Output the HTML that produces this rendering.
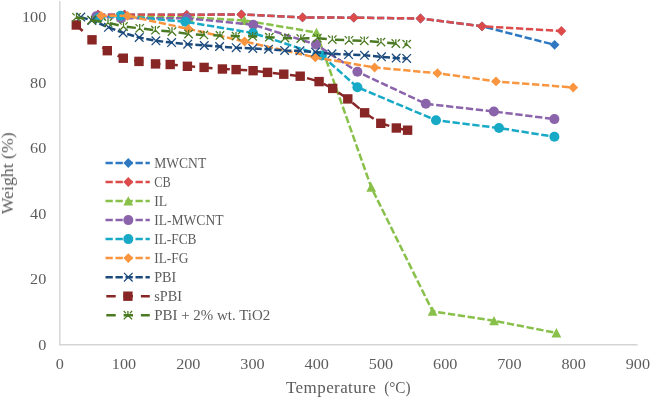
<!DOCTYPE html><html><head><meta charset="utf-8"><style>html,body{margin:0;padding:0;background:#fff;overflow:hidden}svg{display:block} text{will-change:transform}</style></head><body>
<svg width="650" height="397" viewBox="0 0 650 397">
<line x1="59.8" y1="1" x2="59.8" y2="344.8" stroke="#d4d4d4" stroke-width="1.4"/>
<line x1="59.1" y1="344.8" x2="637.6" y2="344.8" stroke="#d4d4d4" stroke-width="1.4"/>
<text x="46.3" y="349.9" text-anchor="end" font-family="Liberation Serif" font-size="15.5" fill="#5c5c5c" textLength="8.1" lengthAdjust="spacingAndGlyphs">0</text>
<text x="46.3" y="284.4" text-anchor="end" font-family="Liberation Serif" font-size="15.5" fill="#5c5c5c" textLength="16.2" lengthAdjust="spacingAndGlyphs">20</text>
<text x="46.3" y="218.9" text-anchor="end" font-family="Liberation Serif" font-size="15.5" fill="#5c5c5c" textLength="16.2" lengthAdjust="spacingAndGlyphs">40</text>
<text x="46.3" y="153.3" text-anchor="end" font-family="Liberation Serif" font-size="15.5" fill="#5c5c5c" textLength="16.2" lengthAdjust="spacingAndGlyphs">60</text>
<text x="46.3" y="87.8" text-anchor="end" font-family="Liberation Serif" font-size="15.5" fill="#5c5c5c" textLength="16.2" lengthAdjust="spacingAndGlyphs">80</text>
<text x="46.3" y="22.3" text-anchor="end" font-family="Liberation Serif" font-size="15.5" fill="#5c5c5c" textLength="24.3" lengthAdjust="spacingAndGlyphs">100</text>
<text x="59.8" y="368.7" text-anchor="middle" font-family="Liberation Serif" font-size="15.5" fill="#5c5c5c" textLength="8.1" lengthAdjust="spacingAndGlyphs">0</text>
<text x="124.0" y="368.7" text-anchor="middle" font-family="Liberation Serif" font-size="15.5" fill="#5c5c5c" textLength="24.3" lengthAdjust="spacingAndGlyphs">100</text>
<text x="188.3" y="368.7" text-anchor="middle" font-family="Liberation Serif" font-size="15.5" fill="#5c5c5c" textLength="24.3" lengthAdjust="spacingAndGlyphs">200</text>
<text x="252.5" y="368.7" text-anchor="middle" font-family="Liberation Serif" font-size="15.5" fill="#5c5c5c" textLength="24.3" lengthAdjust="spacingAndGlyphs">300</text>
<text x="316.7" y="368.7" text-anchor="middle" font-family="Liberation Serif" font-size="15.5" fill="#5c5c5c" textLength="24.3" lengthAdjust="spacingAndGlyphs">400</text>
<text x="381.0" y="368.7" text-anchor="middle" font-family="Liberation Serif" font-size="15.5" fill="#5c5c5c" textLength="24.3" lengthAdjust="spacingAndGlyphs">500</text>
<text x="445.2" y="368.7" text-anchor="middle" font-family="Liberation Serif" font-size="15.5" fill="#5c5c5c" textLength="24.3" lengthAdjust="spacingAndGlyphs">600</text>
<text x="509.4" y="368.7" text-anchor="middle" font-family="Liberation Serif" font-size="15.5" fill="#5c5c5c" textLength="24.3" lengthAdjust="spacingAndGlyphs">700</text>
<text x="573.6" y="368.7" text-anchor="middle" font-family="Liberation Serif" font-size="15.5" fill="#5c5c5c" textLength="24.3" lengthAdjust="spacingAndGlyphs">800</text>
<text x="637.9" y="368.7" text-anchor="middle" font-family="Liberation Serif" font-size="15.5" fill="#5c5c5c" textLength="24.3" lengthAdjust="spacingAndGlyphs">900</text>
<text x="286" y="392.6" font-family="Liberation Serif" font-size="17" fill="#5c5c5c" letter-spacing="0.415">Temperature</text><text x="384.2" y="392.6" font-family="Liberation Serif" font-size="17" fill="#5c5c5c" textLength="26.4" lengthAdjust="spacingAndGlyphs">(°C)</text>
<text transform="translate(13,214.3) rotate(-90)" x="0" y="0" font-family="Liberation Serif" font-size="16.3" fill="#5c5c5c" textLength="82" lengthAdjust="spacingAndGlyphs">Weight (%)</text>
<path d="M98.0 14.6 L124.5 14.7 L186.7 14.8 L241.4 14.4 L302.6 17.4 L353.8 17.7 L420.5 18.5 L482.0 26.3 L554.6 44.8" fill="none" stroke="#2E78C2" stroke-width="2.5" stroke-dasharray="7.3 2.67" stroke-dashoffset="0.13" stroke-linejoin="round"/>
<path d="M98.0 9.7L102.9 14.6L98.0 19.5L93.1 14.6Z" fill="#2E78C2"/><path d="M124.5 9.8L129.4 14.7L124.5 19.6L119.6 14.7Z" fill="#2E78C2"/><path d="M186.7 9.9L191.6 14.8L186.7 19.7L181.8 14.8Z" fill="#2E78C2"/><path d="M241.4 9.5L246.3 14.4L241.4 19.3L236.5 14.4Z" fill="#2E78C2"/><path d="M302.6 12.5L307.5 17.4L302.6 22.3L297.7 17.4Z" fill="#2E78C2"/><path d="M353.8 12.8L358.7 17.7L353.8 22.6L348.9 17.7Z" fill="#2E78C2"/><path d="M420.5 13.6L425.4 18.5L420.5 23.4L415.6 18.5Z" fill="#2E78C2"/><path d="M482.0 21.4L486.9 26.3L482.0 31.2L477.1 26.3Z" fill="#2E78C2"/><path d="M554.6 39.9L559.5 44.8L554.6 49.7L549.7 44.8Z" fill="#2E78C2"/>
<path d="M98.0 14.6 L124.5 14.7 L186.7 14.8 L241.4 14.4 L302.6 17.4 L353.8 17.7 L420.5 18.5 L482.0 26.3 L561.4 31.0" fill="none" stroke="#DC4A4A" stroke-width="2.5" stroke-dasharray="7.3 2.67" stroke-dashoffset="0.13" stroke-linejoin="round"/>
<path d="M98.0 9.7L102.9 14.6L98.0 19.5L93.1 14.6Z" fill="#DC4A4A"/><path d="M124.5 9.8L129.4 14.7L124.5 19.6L119.6 14.7Z" fill="#DC4A4A"/><path d="M186.7 9.9L191.6 14.8L186.7 19.7L181.8 14.8Z" fill="#DC4A4A"/><path d="M241.4 9.5L246.3 14.4L241.4 19.3L236.5 14.4Z" fill="#DC4A4A"/><path d="M302.6 12.5L307.5 17.4L302.6 22.3L297.7 17.4Z" fill="#DC4A4A"/><path d="M353.8 12.8L358.7 17.7L353.8 22.6L348.9 17.7Z" fill="#DC4A4A"/><path d="M420.5 13.6L425.4 18.5L420.5 23.4L415.6 18.5Z" fill="#DC4A4A"/><path d="M482.0 21.4L486.9 26.3L482.0 31.2L477.1 26.3Z" fill="#DC4A4A"/><path d="M561.4 26.1L566.3 31.0L561.4 35.9L556.5 31.0Z" fill="#DC4A4A"/>
<path d="M121.0 17.0 L188.8 17.2 L244.4 20.4 L316.5 32.5 L371.2 187.2 L432.6 311.3 L494.0 320.8 L556.4 332.9" fill="none" stroke="#88C04A" stroke-width="2.5" stroke-dasharray="7.3 2.67" stroke-dashoffset="3.8" stroke-linejoin="round"/>
<path d="M121.0 12.2L125.9 21.5L116.1 21.5Z" fill="#88C04A"/><path d="M188.8 12.4L193.7 21.7L183.9 21.7Z" fill="#88C04A"/><path d="M244.4 15.6L249.3 24.9L239.5 24.9Z" fill="#88C04A"/><path d="M316.5 27.7L321.4 37.0L311.6 37.0Z" fill="#88C04A"/><path d="M371.2 182.4L376.1 191.7L366.3 191.7Z" fill="#88C04A"/><path d="M432.6 306.5L437.5 315.8L427.7 315.8Z" fill="#88C04A"/><path d="M494.0 316.0L498.9 325.3L489.1 325.3Z" fill="#88C04A"/><path d="M556.4 328.1L561.3 337.4L551.5 337.4Z" fill="#88C04A"/>
<path d="M96.3 16.2 L121.0 18.2 L186.9 18.3 L253.3 24.7 L316.0 44.5 L357.4 71.8 L425.8 103.8 L493.9 111.5 L554.4 119.1" fill="none" stroke="#8B63AB" stroke-width="2.5" stroke-dasharray="7.3 2.658" stroke-dashoffset="9.74" stroke-linejoin="round"/>
<circle cx="96.3" cy="16.2" r="5.0" fill="#8B63AB"/><circle cx="121.0" cy="18.2" r="5.0" fill="#8B63AB"/><circle cx="186.9" cy="18.3" r="5.0" fill="#8B63AB"/><circle cx="253.3" cy="24.7" r="5.0" fill="#8B63AB"/><circle cx="316.0" cy="44.5" r="5.0" fill="#8B63AB"/><circle cx="357.4" cy="71.8" r="5.0" fill="#8B63AB"/><circle cx="425.8" cy="103.8" r="5.0" fill="#8B63AB"/><circle cx="493.9" cy="111.5" r="5.0" fill="#8B63AB"/><circle cx="554.4" cy="119.1" r="5.0" fill="#8B63AB"/>
<path d="M98.5 17.8 L120.6 15.8 L185.4 21.8 L253.0 33.0 L321.8 55.5 L357.4 87.2 L436.0 120.3 L499.0 128.0 L554.4 136.8" fill="none" stroke="#17A9C6" stroke-width="2.5" stroke-dasharray="7.3 2.65" stroke-dashoffset="0.3" stroke-linejoin="round"/>
<circle cx="98.5" cy="17.8" r="5.0" fill="#17A9C6"/><circle cx="120.6" cy="15.8" r="5.0" fill="#17A9C6"/><circle cx="185.4" cy="21.8" r="5.0" fill="#17A9C6"/><circle cx="253.0" cy="33.0" r="5.0" fill="#17A9C6"/><circle cx="321.8" cy="55.5" r="5.0" fill="#17A9C6"/><circle cx="357.4" cy="87.2" r="5.0" fill="#17A9C6"/><circle cx="436.0" cy="120.3" r="5.0" fill="#17A9C6"/><circle cx="499.0" cy="128.0" r="5.0" fill="#17A9C6"/><circle cx="554.4" cy="136.8" r="5.0" fill="#17A9C6"/>
<path d="M101.0 15.8 L127.5 15.8 L188.5 28.9 L244.6 41.5 L315.3 57.4 L374.6 67.5 L437.5 73.2 L496.0 81.4 L573.2 87.5" fill="none" stroke="#F9953E" stroke-width="2.5" stroke-dasharray="7.3 2.67" stroke-dashoffset="1.33" stroke-linejoin="round"/>
<path d="M101.0 10.9L105.9 15.8L101.0 20.7L96.1 15.8Z" fill="#F9953E"/><path d="M127.5 10.9L132.4 15.8L127.5 20.7L122.6 15.8Z" fill="#F9953E"/><path d="M188.5 24.0L193.4 28.9L188.5 33.8L183.6 28.9Z" fill="#F9953E"/><path d="M244.6 36.6L249.5 41.5L244.6 46.4L239.7 41.5Z" fill="#F9953E"/><path d="M315.3 52.5L320.2 57.4L315.3 62.3L310.4 57.4Z" fill="#F9953E"/><path d="M374.6 62.6L379.5 67.5L374.6 72.4L369.7 67.5Z" fill="#F9953E"/><path d="M437.5 68.3L442.4 73.2L437.5 78.1L432.6 73.2Z" fill="#F9953E"/><path d="M496.0 76.5L500.9 81.4L496.0 86.3L491.1 81.4Z" fill="#F9953E"/><path d="M573.2 82.6L578.1 87.5L573.2 92.4L568.3 87.5Z" fill="#F9953E"/>
<path d="M80.8 17.1 L91.9 20.4 L108.5 27.3 L123.1 32.9 L139.2 37.5 L155.9 40.8 L171.6 42.6 L187.7 44.2 L204.3 45.5 L219.6 46.5 L236.2 47.7 L252.8 48.5 L268.5 49.2 L284.6 50.5 L300.0 50.8 L315.5 52.1 L332.0 53.8 L348.6 54.6 L364.5 55.3 L381.5 56.8 L396.2 58.1 L406.7 58.4" fill="none" stroke="#1B4A7C" stroke-width="2.5" stroke-dasharray="7.2 2.69" stroke-dashoffset="0.05" stroke-linejoin="round"/>
<path d="M76.5 12.8L85.1 21.4M85.1 12.8L76.5 21.4" stroke="#1B4A7C" stroke-width="1.25" fill="none"/><path d="M87.6 16.1L96.2 24.7M96.2 16.1L87.6 24.7" stroke="#1B4A7C" stroke-width="1.25" fill="none"/><path d="M104.2 23.0L112.8 31.6M112.8 23.0L104.2 31.6" stroke="#1B4A7C" stroke-width="1.25" fill="none"/><path d="M118.8 28.6L127.4 37.2M127.4 28.6L118.8 37.2" stroke="#1B4A7C" stroke-width="1.25" fill="none"/><path d="M134.9 33.2L143.5 41.8M143.5 33.2L134.9 41.8" stroke="#1B4A7C" stroke-width="1.25" fill="none"/><path d="M151.6 36.5L160.2 45.1M160.2 36.5L151.6 45.1" stroke="#1B4A7C" stroke-width="1.25" fill="none"/><path d="M167.3 38.3L175.9 46.9M175.9 38.3L167.3 46.9" stroke="#1B4A7C" stroke-width="1.25" fill="none"/><path d="M183.4 39.9L192.0 48.5M192.0 39.9L183.4 48.5" stroke="#1B4A7C" stroke-width="1.25" fill="none"/><path d="M200.0 41.2L208.6 49.8M208.6 41.2L200.0 49.8" stroke="#1B4A7C" stroke-width="1.25" fill="none"/><path d="M215.3 42.2L223.9 50.8M223.9 42.2L215.3 50.8" stroke="#1B4A7C" stroke-width="1.25" fill="none"/><path d="M231.9 43.4L240.5 52.0M240.5 43.4L231.9 52.0" stroke="#1B4A7C" stroke-width="1.25" fill="none"/><path d="M248.5 44.2L257.1 52.8M257.1 44.2L248.5 52.8" stroke="#1B4A7C" stroke-width="1.25" fill="none"/><path d="M264.2 44.9L272.8 53.5M272.8 44.9L264.2 53.5" stroke="#1B4A7C" stroke-width="1.25" fill="none"/><path d="M280.3 46.2L288.9 54.8M288.9 46.2L280.3 54.8" stroke="#1B4A7C" stroke-width="1.25" fill="none"/><path d="M295.7 46.5L304.3 55.1M304.3 46.5L295.7 55.1" stroke="#1B4A7C" stroke-width="1.25" fill="none"/><path d="M311.2 47.8L319.8 56.4M319.8 47.8L311.2 56.4" stroke="#1B4A7C" stroke-width="1.25" fill="none"/><path d="M327.7 49.5L336.3 58.1M336.3 49.5L327.7 58.1" stroke="#1B4A7C" stroke-width="1.25" fill="none"/><path d="M344.3 50.3L352.9 58.9M352.9 50.3L344.3 58.9" stroke="#1B4A7C" stroke-width="1.25" fill="none"/><path d="M360.2 51.0L368.8 59.6M368.8 51.0L360.2 59.6" stroke="#1B4A7C" stroke-width="1.25" fill="none"/><path d="M377.2 52.5L385.8 61.1M385.8 52.5L377.2 61.1" stroke="#1B4A7C" stroke-width="1.25" fill="none"/><path d="M391.9 53.8L400.5 62.4M400.5 53.8L391.9 62.4" stroke="#1B4A7C" stroke-width="1.25" fill="none"/><path d="M402.4 54.1L411.0 62.7M411.0 54.1L402.4 62.7" stroke="#1B4A7C" stroke-width="1.25" fill="none"/>
<path d="M76.3 25.0 L92.0 39.8 L107.3 50.7 L123.3 58.2 L139.0 61.4 L155.5 63.9 L170.2 64.5 L187.4 66.3 L204.1 67.4 L222.4 69.0 L236.1 69.6 L253.1 70.7 L267.5 72.4 L283.8 74.2 L300.2 76.2 L319.1 81.6 L332.7 88.4 L347.8 98.9 L364.6 112.8 L380.8 123.3 L396.3 128.0 L407.6 130.2" fill="none" stroke="#882626" stroke-width="2.5" stroke-dasharray="9.2 8.2" stroke-dashoffset="0.5" stroke-linejoin="round"/>
<rect x="71.6" y="20.3" width="9.4" height="9.4" fill="#882626"/><rect x="87.3" y="35.1" width="9.4" height="9.4" fill="#882626"/><rect x="102.6" y="46.0" width="9.4" height="9.4" fill="#882626"/><rect x="118.6" y="53.5" width="9.4" height="9.4" fill="#882626"/><rect x="134.3" y="56.7" width="9.4" height="9.4" fill="#882626"/><rect x="150.8" y="59.2" width="9.4" height="9.4" fill="#882626"/><rect x="165.5" y="59.8" width="9.4" height="9.4" fill="#882626"/><rect x="182.7" y="61.6" width="9.4" height="9.4" fill="#882626"/><rect x="199.4" y="62.7" width="9.4" height="9.4" fill="#882626"/><rect x="217.7" y="64.3" width="9.4" height="9.4" fill="#882626"/><rect x="231.4" y="64.9" width="9.4" height="9.4" fill="#882626"/><rect x="248.4" y="66.0" width="9.4" height="9.4" fill="#882626"/><rect x="262.8" y="67.7" width="9.4" height="9.4" fill="#882626"/><rect x="279.1" y="69.5" width="9.4" height="9.4" fill="#882626"/><rect x="295.5" y="71.5" width="9.4" height="9.4" fill="#882626"/><rect x="314.4" y="76.9" width="9.4" height="9.4" fill="#882626"/><rect x="328.0" y="83.7" width="9.4" height="9.4" fill="#882626"/><rect x="343.1" y="94.2" width="9.4" height="9.4" fill="#882626"/><rect x="359.9" y="108.1" width="9.4" height="9.4" fill="#882626"/><rect x="376.1" y="118.6" width="9.4" height="9.4" fill="#882626"/><rect x="391.6" y="123.3" width="9.4" height="9.4" fill="#882626"/><rect x="402.9" y="125.5" width="9.4" height="9.4" fill="#882626"/>
<path d="M76.5 17.3 L91.5 20.0 L108.0 22.7 L123.5 26.5 L139.7 28.3 L155.4 30.2 L172.0 31.5 L188.6 34.0 L203.9 34.9 L220.0 35.4 L236.0 36.1 L252.6 36.3 L269.3 37.2 L285.0 38.0 L300.8 38.5 L317.3 38.1 L332.3 39.6 L349.0 40.3 L364.3 40.8 L381.0 42.1 L395.8 43.5 L406.7 44.2" fill="none" stroke="#4A7A22" stroke-width="2.5" stroke-dasharray="9.2 8.21" stroke-dashoffset="1.08" stroke-linejoin="round"/>
<path d="M76.5 13.1L76.5 17.3M72.3 21.5L76.5 17.3L80.7 21.5M72.3 13.1L74.6 15.4M80.7 13.1L78.4 15.4" stroke="#4A7A22" stroke-width="1.3" fill="none"/><path d="M91.5 15.8L91.5 20.0M87.3 24.2L91.5 20.0L95.7 24.2M87.3 15.8L89.6 18.1M95.7 15.8L93.4 18.1" stroke="#4A7A22" stroke-width="1.3" fill="none"/><path d="M108.0 18.5L108.0 22.7M103.8 26.9L108.0 22.7L112.2 26.9M103.8 18.5L106.1 20.8M112.2 18.5L109.9 20.8" stroke="#4A7A22" stroke-width="1.3" fill="none"/><path d="M123.5 22.3L123.5 26.5M119.3 30.7L123.5 26.5L127.7 30.7M119.3 22.3L121.6 24.6M127.7 22.3L125.4 24.6" stroke="#4A7A22" stroke-width="1.3" fill="none"/><path d="M139.7 24.1L139.7 28.3M135.5 32.5L139.7 28.3L143.9 32.5M135.5 24.1L137.8 26.4M143.9 24.1L141.6 26.4" stroke="#4A7A22" stroke-width="1.3" fill="none"/><path d="M155.4 26.0L155.4 30.2M151.2 34.4L155.4 30.2L159.6 34.4M151.2 26.0L153.5 28.3M159.6 26.0L157.3 28.3" stroke="#4A7A22" stroke-width="1.3" fill="none"/><path d="M172.0 27.3L172.0 31.5M167.8 35.7L172.0 31.5L176.2 35.7M167.8 27.3L170.1 29.6M176.2 27.3L173.9 29.6" stroke="#4A7A22" stroke-width="1.3" fill="none"/><path d="M188.6 29.8L188.6 34.0M184.4 38.2L188.6 34.0L192.8 38.2M184.4 29.8L186.7 32.1M192.8 29.8L190.5 32.1" stroke="#4A7A22" stroke-width="1.3" fill="none"/><path d="M203.9 30.7L203.9 34.9M199.7 39.1L203.9 34.9L208.1 39.1M199.7 30.7L202.0 33.0M208.1 30.7L205.8 33.0" stroke="#4A7A22" stroke-width="1.3" fill="none"/><path d="M220.0 31.2L220.0 35.4M215.8 39.6L220.0 35.4L224.2 39.6M215.8 31.2L218.1 33.5M224.2 31.2L221.9 33.5" stroke="#4A7A22" stroke-width="1.3" fill="none"/><path d="M236.0 31.9L236.0 36.1M231.8 40.3L236.0 36.1L240.2 40.3M231.8 31.9L234.1 34.2M240.2 31.9L237.9 34.2" stroke="#4A7A22" stroke-width="1.3" fill="none"/><path d="M252.6 32.1L252.6 36.3M248.4 40.5L252.6 36.3L256.8 40.5M248.4 32.1L250.7 34.4M256.8 32.1L254.5 34.4" stroke="#4A7A22" stroke-width="1.3" fill="none"/><path d="M269.3 33.0L269.3 37.2M265.1 41.4L269.3 37.2L273.5 41.4M265.1 33.0L267.4 35.3M273.5 33.0L271.2 35.3" stroke="#4A7A22" stroke-width="1.3" fill="none"/><path d="M285.0 33.8L285.0 38.0M280.8 42.2L285.0 38.0L289.2 42.2M280.8 33.8L283.1 36.1M289.2 33.8L286.9 36.1" stroke="#4A7A22" stroke-width="1.3" fill="none"/><path d="M300.8 34.3L300.8 38.5M296.6 42.7L300.8 38.5L305.0 42.7M296.6 34.3L298.9 36.6M305.0 34.3L302.7 36.6" stroke="#4A7A22" stroke-width="1.3" fill="none"/><path d="M317.3 33.9L317.3 38.1M313.1 42.3L317.3 38.1L321.5 42.3M313.1 33.9L315.4 36.2M321.5 33.9L319.2 36.2" stroke="#4A7A22" stroke-width="1.3" fill="none"/><path d="M332.3 35.4L332.3 39.6M328.1 43.8L332.3 39.6L336.5 43.8M328.1 35.4L330.4 37.7M336.5 35.4L334.2 37.7" stroke="#4A7A22" stroke-width="1.3" fill="none"/><path d="M349.0 36.1L349.0 40.3M344.8 44.5L349.0 40.3L353.2 44.5M344.8 36.1L347.1 38.4M353.2 36.1L350.9 38.4" stroke="#4A7A22" stroke-width="1.3" fill="none"/><path d="M364.3 36.6L364.3 40.8M360.1 45.0L364.3 40.8L368.5 45.0M360.1 36.6L362.4 38.9M368.5 36.6L366.2 38.9" stroke="#4A7A22" stroke-width="1.3" fill="none"/><path d="M381.0 37.9L381.0 42.1M376.8 46.3L381.0 42.1L385.2 46.3M376.8 37.9L379.1 40.2M385.2 37.9L382.9 40.2" stroke="#4A7A22" stroke-width="1.3" fill="none"/><path d="M395.8 39.3L395.8 43.5M391.6 47.7L395.8 43.5L400.0 47.7M391.6 39.3L393.9 41.6M400.0 39.3L397.7 41.6" stroke="#4A7A22" stroke-width="1.3" fill="none"/><path d="M406.7 40.0L406.7 44.2M402.5 48.4L406.7 44.2L410.9 48.4M402.5 40.0L404.8 42.3M410.9 40.0L408.6 42.3" stroke="#4A7A22" stroke-width="1.3" fill="none"/>
<path d="M105.5 163.0L149.8 163.0" stroke="#2E78C2" stroke-width="2.5" stroke-dasharray="7.3 2.7"/>
<path d="M128.3 158.1L133.2 163.0L128.3 167.9L123.4 163.0Z" fill="#2E78C2"/>
<text x="154.2" y="167.6" font-family="Liberation Serif" font-size="14.5" fill="#5c5c5c" textLength="52" lengthAdjust="spacingAndGlyphs">MWCNT</text>
<path d="M105.5 182.0L149.8 182.0" stroke="#DC4A4A" stroke-width="2.5" stroke-dasharray="7.3 2.7"/>
<path d="M128.3 177.1L133.2 182.0L128.3 186.9L123.4 182.0Z" fill="#DC4A4A"/>
<text x="154.2" y="186.6" font-family="Liberation Serif" font-size="14.5" fill="#5c5c5c" textLength="16.5" lengthAdjust="spacingAndGlyphs">CB</text>
<path d="M105.5 201.1L149.8 201.1" stroke="#88C04A" stroke-width="2.5" stroke-dasharray="7.3 2.7"/>
<path d="M128.3 196.3L133.2 205.6L123.4 205.6Z" fill="#88C04A"/>
<text x="154.2" y="205.7" font-family="Liberation Serif" font-size="14.5" fill="#5c5c5c" textLength="13" lengthAdjust="spacingAndGlyphs">IL</text>
<path d="M105.5 220.1L149.8 220.1" stroke="#8B63AB" stroke-width="2.5" stroke-dasharray="7.3 2.7"/>
<circle cx="128.3" cy="220.1" r="5.0" fill="#8B63AB"/>
<text x="154.2" y="224.7" font-family="Liberation Serif" font-size="14.5" fill="#5c5c5c" textLength="69.3" lengthAdjust="spacingAndGlyphs">IL-MWCNT</text>
<path d="M105.5 239.1L149.8 239.1" stroke="#17A9C6" stroke-width="2.5" stroke-dasharray="7.3 2.7"/>
<circle cx="128.3" cy="239.1" r="5.0" fill="#17A9C6"/>
<text x="154.2" y="243.7" font-family="Liberation Serif" font-size="14.5" fill="#5c5c5c" textLength="42.3" lengthAdjust="spacingAndGlyphs">IL-FCB</text>
<path d="M105.5 258.1L149.8 258.1" stroke="#F9953E" stroke-width="2.5" stroke-dasharray="7.3 2.7"/>
<path d="M128.3 253.2L133.2 258.1L128.3 263.0L123.4 258.1Z" fill="#F9953E"/>
<text x="154.2" y="262.8" font-family="Liberation Serif" font-size="14.5" fill="#5c5c5c" textLength="34.2" lengthAdjust="spacingAndGlyphs">IL-FG</text>
<path d="M105.5 277.2L149.8 277.2" stroke="#1B4A7C" stroke-width="2.5" stroke-dasharray="7.3 2.7"/>
<path d="M124.0 272.9L132.6 281.5M132.6 272.9L124.0 281.5" stroke="#1B4A7C" stroke-width="1.25" fill="none"/>
<text x="154.2" y="281.8" font-family="Liberation Serif" font-size="14.5" fill="#5c5c5c" textLength="22" lengthAdjust="spacingAndGlyphs">PBI</text>
<path d="M106.3 296.2L149.8 296.2" stroke="#882626" stroke-width="2.5" stroke-dasharray="9.4 7.9"/>
<rect x="123.2" y="291.5" width="9.4" height="9.4" fill="#882626"/>
<text x="154.2" y="300.8" font-family="Liberation Serif" font-size="14.5" fill="#5c5c5c" textLength="27.8" lengthAdjust="spacingAndGlyphs">sPBI</text>
<path d="M106.3 315.2L149.8 315.2" stroke="#4A7A22" stroke-width="2.5" stroke-dasharray="9.4 7.9"/>
<path d="M127.9 311.0L127.9 315.2M123.7 319.4L127.9 315.2L132.1 319.4M123.7 311.0L126.0 313.4M132.1 311.0L129.8 313.4" stroke="#4A7A22" stroke-width="1.3" fill="none"/>
<text x="154.2" y="319.8" font-family="Liberation Serif" font-size="14.5" fill="#5c5c5c" textLength="116" lengthAdjust="spacingAndGlyphs">PBI + 2&#37; wt. TiO2</text>
</svg></body></html>
